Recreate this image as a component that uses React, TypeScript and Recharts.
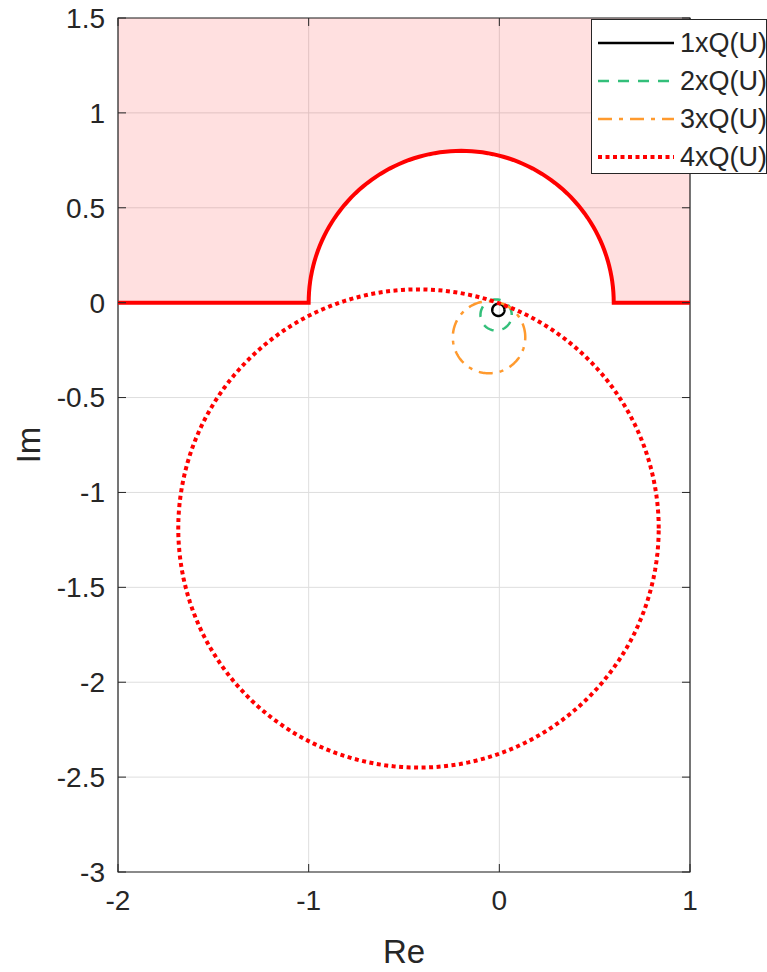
import React from 'react';
import { ComposedChart, Line, Area, XAxis, YAxis, CartesianGrid, ReferenceLine, ReferenceArea, Legend } from 'recharts';

const FONT = '"Liberation Sans", Arial, Helvetica, sans-serif';
const INK = '#262626';

const X_TICKS = [-2, -1, 0, 1];
const Y_TICKS = [1.5, 1, 0.5, 0, -0.5, -1, -1.5, -2, -2.5, -3];

// unstable region: everything above Im=0 except a half disc around -0.2
const BOUND_LEFT = [-2, -1];
const BOUND_RIGHT = [0.6, 1];
const DISC_CENTER = -0.2;
const DISC_RADIUS = 0.8;
const REGION_TOP = 1.5;

const SERIES_NAMES = ['1xQ(U)', '2xQ(U)', '3xQ(U)', '4xQ(U)'];
const LOOP_RE = [-0.005, -0.017, -0.054, -0.424];
const LOOP_IM = [-0.038, -0.065, -0.182, -1.19];
const LOOP_R = [0.032, 0.082, 0.19, 1.26];

const STYLES = [
  { stroke: '#000000', width: 2.5, dash: undefined as string | undefined },
  { stroke: '#33bf7a', width: 2.5, dash: '11 9' },
  { stroke: '#ff9a2e', width: 2.5, dash: '14 7 4 7' },
  { stroke: '#ff0000', width: 4, dash: '4 3.5' },
];

function loopPoints(i: number) {
  const pts = [];
  for (let k = 0; k <= 180; k++) {
    const t = (k / 180) * Math.PI * 2;
    pts.push({ re: LOOP_RE[i] + LOOP_R[i] * Math.cos(t), im: LOOP_IM[i] + LOOP_R[i] * Math.sin(t) });
  }
  return pts;
}

function boundaryPoints() {
  const pts = BOUND_LEFT.map(re => ({ re, im: 0 }));
  for (let k = 1; k < 90; k++) {
    const t = Math.PI - (k / 90) * Math.PI;
    pts.push({ re: DISC_CENTER + DISC_RADIUS * Math.cos(t), im: DISC_RADIUS * Math.sin(t) });
  }
  BOUND_RIGHT.forEach(re => pts.push({ re, im: 0 }));
  return pts;
}

const boundary = boundaryPoints();
const region = boundary.map(p => ({ re: p.re, band: [p.im, REGION_TOP] }));
const loops = SERIES_NAMES.map((_, i) => loopPoints(i));

const TICK_LEN = 0.042;

const renderLegend = () => (
  <div style={{ width: 176, height: 155, border: `1px solid ${INK}`, background: '#fff', boxSizing: 'border-box' }}>
    <svg width={174} height={153} style={{ display: 'block', overflow: 'hidden' }}>
      {SERIES_NAMES.map((name, i) => (
        <g key={name}>
          <line x1={6} x2={82} y1={23 + 38 * i} y2={23 + 38 * i} stroke={STYLES[i].stroke}
            strokeWidth={STYLES[i].width} strokeDasharray={STYLES[i].dash} />
          <text x={88} y={23 + 38 * i} dominantBaseline="central" fontSize={27} fill={INK} fontFamily={FONT}>{name}</text>
        </g>
      ))}
    </svg>
  </div>
);

export default function App() {
  return (
    <div style={{ position: 'absolute', left: 0, top: 0, fontFamily: FONT }}>
      <ComposedChart width={767} height={972} margin={{ top: 18, right: 77, left: 0, bottom: 0 }}>
        <CartesianGrid stroke="#dedede" strokeWidth={1} />
        <XAxis type="number" dataKey="re" domain={[-2, 1]} ticks={X_TICKS} allowDataOverflow
          axisLine={false} tickLine={false} tickSize={0} tickMargin={18} height={100}
          tick={{ fill: INK, fontSize: 28, fontFamily: FONT }}
          label={{ content: (p: any) => (
            <text x={p.viewBox.x + p.viewBox.width / 2} y={p.viewBox.y + 91} textAnchor="middle"
              fontSize={33} fill={INK} fontFamily={FONT}>Re</text>
          ) }} />
        <YAxis type="number" domain={[-3, 1.5]} ticks={Y_TICKS} allowDataOverflow
          axisLine={false} tickLine={false} tickSize={0} tickMargin={13} width={118}
          tick={{ fill: INK, fontSize: 28, fontFamily: FONT }}
          label={{ content: (p: any) => {
            const x = 40, y = p.viewBox.y + p.viewBox.height / 2;
            return <text x={x} y={y} transform={`rotate(-90 ${x} ${y})`} textAnchor="middle"
              fontSize={33} fill={INK} fontFamily={FONT}>Im</text>;
          } }} />
        <Area data={region} dataKey="band" type="linear" stroke="none" fill="#ff0000" fillOpacity={0.12}
          isAnimationActive={false} legendType="none" />
        <Line data={boundary} dataKey="im" type="linear" stroke="#ff0000" strokeWidth={4} dot={false}
          isAnimationActive={false} legendType="none" />
        {loops.map((pts, i) => (
          <Line key={SERIES_NAMES[i]} name={SERIES_NAMES[i]} data={pts} dataKey="im" type="linear"
            stroke={STYLES[i].stroke} strokeWidth={STYLES[i].width} strokeDasharray={STYLES[i].dash}
            dot={false} activeDot={false} isAnimationActive={false} />
        ))}
        <ReferenceArea x1={-2} x2={1} y1={-3} y2={1.5} fill="none" stroke={INK} strokeWidth={1.2} ifOverflow="visible" />
        {X_TICKS.map(x => (
          <ReferenceLine key={'xb' + x} segment={[{ x, y: -3 }, { x, y: -3 + TICK_LEN }]} stroke={INK} />
        ))}
        {X_TICKS.map(x => (
          <ReferenceLine key={'xt' + x} segment={[{ x, y: 1.5 }, { x, y: 1.5 - TICK_LEN }]} stroke={INK} />
        ))}
        {Y_TICKS.map(y => (
          <ReferenceLine key={'yl' + y} segment={[{ x: -2, y }, { x: -2 + TICK_LEN, y }]} stroke={INK} />
        ))}
        {Y_TICKS.map(y => (
          <ReferenceLine key={'yr' + y} segment={[{ x: 1, y }, { x: 1 - TICK_LEN, y }]} stroke={INK} />
        ))}
        <Legend layout="vertical" align="center" verticalAlign="middle" content={renderLegend}
          wrapperStyle={{ position: 'absolute', left: 591, top: 19, width: 176, height: 155 }} />
      </ComposedChart>
    </div>
  );
}
